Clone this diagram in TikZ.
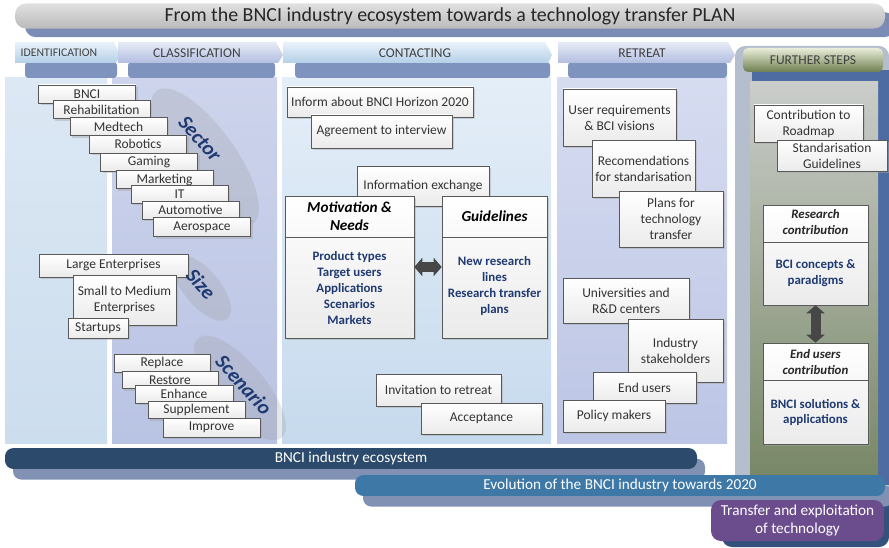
\documentclass[tikz,border=0pt]{standalone}
\usepackage{fontspec}
\setmainfont{Carlito}
\usepackage{xcolor}
\usepackage{tikz}
\usetikzlibrary{arrows.meta,shadows}
\definecolor{ink}{HTML}{333333}
\definecolor{navy}{HTML}{1F3A72}
\definecolor{edge}{HTML}{595959}
\definecolor{stripblue}{HTML}{7E93BE}
\definecolor{titleshadow}{HTML}{7A8CB5}
\definecolor{ecobar}{HTML}{2C4B6C}
\definecolor{evobar}{HTML}{3D78A7}
\definecolor{barshadow}{HTML}{8191B3}
\definecolor{xferbg}{HTML}{6B4C8D}
\definecolor{deepblue}{HTML}{33517A}
\definecolor{fsframe}{HTML}{B5BECD}
\definecolor{fsstripe}{HTML}{4E6CA2}
\definecolor{fsinnertop}{HTML}{CACDCA}
\definecolor{fsinnerbot}{HTML}{738360}
\definecolor{idtop}{HTML}{DCE8F4}
\definecolor{idbot}{HTML}{CCDDEE}
\definecolor{cltop}{HTML}{CDD4EC}
\definecolor{clbot}{HTML}{B9C3E3}
\definecolor{cotop}{HTML}{E4EEF8}
\definecolor{cobot}{HTML}{C6DAED}
\definecolor{retop}{HTML}{D6DCF0}
\definecolor{rebot}{HTML}{BCC5E5}
\definecolor{bluetabtop}{HTML}{EAF2FA}
\definecolor{bluetabbot}{HTML}{B4D0E8}
\definecolor{lavtabtop}{HTML}{E6EAF6}
\definecolor{lavtabbot}{HTML}{B3BFE1}
\definecolor{olivetabtop}{HTML}{E9EDDA}
\definecolor{olivetabbot}{HTML}{6E7F4E}
\tikzset{
  card/.style={draw=edge, line width=0.5pt, top color=white, bottom color=black!8, text=ink,
    font=\fontsize{11.5}{13.6}\selectfont, align=center, inner sep=0pt,
    drop shadow={shadow xshift=0.7mm, shadow yshift=-0.7mm, fill=black!35, opacity=0.45}},
  box/.style 2 args={minimum width=#1*0.3mm, minimum height=#2*0.3mm},
  hdr/.style={text=black, font=\fontsize{13}{15.3}\selectfont\bfseries\itshape, align=center},
  hdrs/.style={text=black!85, font=\fontsize{11}{13.6}\selectfont\bfseries\itshape, align=center},
  body/.style={text=navy, font=\fontsize{11}{13.6}\selectfont\bfseries, align=center},
  sepline/.style={draw=edge, line width=0.5pt},
  lbl/.style={text=navy, font=\fontsize{17.5}{20}\selectfont\bfseries\itshape, rotate=-48},
  blob/.style={fill=black!40, opacity=0.24},
  tabtxt/.style={text=black!75, font=\fontsize{11.5}{13}\selectfont},
  tabblue/.style={top color=bluetabtop, bottom color=bluetabbot},
  tablav/.style={top color=lavtabtop, bottom color=lavtabbot},
  tabolive/.style={top color=olivetabtop, bottom color=olivetabbot},
  strip/.style={fill=stripblue, rounded corners=1mm},
  dbl/.style={draw=black!72, line width=3mm,
    {Triangle[width=5.4mm,length=2.4mm]}-{Triangle[width=5.4mm,length=2.4mm]}},
  titlebar/.style={box={870}{22}, rounded corners=3.3mm, top color=black!12, bottom color=black!27,
    text=black!85, font=\fontsize{17}{20}\selectfont,
    general shadow={fill=titleshadow, shadow xshift=3mm, shadow yshift=-2.6mm}},
  bar/.style={rounded corners=2.5mm, text=white, font=\fontsize{13}{15}\selectfont,
    general shadow={fill=barshadow, shadow xshift=2.4mm, shadow yshift=-3.2mm}},
  xferbox/.style={rounded corners=3mm, fill=xferbg, text=white, align=center,
    font=\fontsize{13}{15.5}\selectfont},
}

\begin{document}
\begin{tikzpicture}[x=0.3mm, y=-0.3mm]
  \useasboundingbox (0,0) rectangle (889,547);

  % title
  \node[titlebar] (title) at (450,16) {From the BNCI industry ecosystem towards a technology transfer PLAN};

  % columns
  \shade[top color=idtop, bottom color=idbot] (5,78) rectangle (107,443);
  \shade[top color=cltop, bottom color=clbot] (112,78) rectangle (277,443);
  \shade[top color=cotop, bottom color=cobot] (282,78) rectangle (551,443);
  \shade[top color=retop, bottom color=rebot] (557,78) rectangle (727,443);

  \fill[strip] (25,62) rectangle (117,78);
  \fill[strip] (128,62) rectangle (275,78);
  \fill[strip] (295,62) rectangle (550,78);
  \fill[strip] (568,62) rectangle (727,78);

  \shade[tabblue] (15,42) -- (114,42) -- (120,55) -- (116,63) -- (15,63) -- cycle;
  \shade[tablav] (118,42) -- (276,42) -- (283,55) -- (278,63) -- (118,63) -- cycle;
  \shade[tabblue] (283,42) -- (545,42) -- (552,55) -- (548,63) -- (283,63) -- cycle;
  \shade[tablav] (558,42) -- (728,42) -- (735,55) -- (730,63) -- (558,63) -- cycle;
  \node[tabtxt, font=\fontsize{10}{11}\selectfont] (idtab) at (59,53) {IDENTIFICATION};
  \node[tabtxt] (cltab) at (197,53) {CLASSIFICATION};
  \node[tabtxt] (cotab) at (415,53) {CONTACTING};
  \node[tabtxt] (retab) at (642,53) {RETREAT};

  % further steps column
  \fill[fsframe, rounded corners=3mm] (735,46) rectangle (889,515);
  \fill[fsstripe] (752,70) rectangle (889,82);
  \fill[fsstripe] (878,70) rectangle (889,485);
  \shade[top color=fsinnertop, bottom color=fsinnerbot] (750,82) rectangle (878,500);
  \shade[tabolive, rounded corners=1.5mm] (743,48) rectangle (883,72);
  \node[tabtxt] (fstab) at (813,60) {FURTHER STEPS};

  % classification
  \fill[blob, rotate around={-54:(205,157)}] (205,157) ellipse [x radius=82, y radius=30];
  \fill[blob, rotate around={-50:(202,288)}] (202,288) ellipse [x radius=40, y radius=18];
  \fill[blob, rotate around={-50:(240,388)}] (240,388) ellipse [x radius=65, y radius=25];

  \node[card, box={97}{18}] (bnci) at (87,94) {BNCI};
  \node[card, box={97}{18}] (rehab) at (101.5,109.5) {Rehabilitation};
  \node[card, box={97}{18}] (medtech) at (118.5,126.5) {Medtech};
  \node[card, box={97}{18}] (robotics) at (138,144) {Robotics};
  \node[card, box={97}{18}] (gaming) at (149,162) {Gaming};
  \node[card, box={97}{18}] (marketing) at (164.5,179.5) {Marketing};
  \node[card, box={97}{18}] (it) at (179.5,194) {IT};
  \node[card, box={97}{18}] (automotive) at (190.5,210) {Automotive};
  \node[card, box={97}{19}] (aerospace) at (202,227) {Aerospace};

  \node[card, box={149}{23}] (large) at (113.5,265.5) {Large Enterprises};
  \node[card, box={103}{50}] (sme) at (124.5,300) {Small to Medium\\Enterprises};
  \node[card, box={60}{20}] (startups) at (98,328) {Startups};

  \node[card, box={96}{18}] (replace) at (162,363) {Replace};
  \node[card, box={96}{17}] (restore) at (170,380) {Restore};
  \node[card, box={98}{18}] (enhance) at (184,394) {Enhance};
  \node[card, box={97}{17}] (supplement) at (196.5,410) {Supplement};
  \node[card, box={97}{19}] (improve) at (211.5,427.5) {Improve};

  \node[lbl] (sectorlbl) at (200,139) {Sector};
  \node[lbl] (sizelbl) at (201,284) {Size};
  \node[lbl] (scenlbl) at (244,385) {Scenario};

  % contacting
  \node[card, box={186}{30}] (inform) at (380,102) {Inform about BNCI Horizon 2020};
  \node[card, box={141}{33}] (agree) at (381.5,131.5) {Agreement to interview};
  \node[card, box={132}{40}] (infoex) at (423,186) {Information exchange};

  \node[card, box={129}{142}] (motiv) at (349.5,267) {};
  \draw[sepline] (motiv.west |- 0,237) -- (motiv.east |- 0,237);
  \node[hdr] (motivh) at (349.5,216) {Motivation \&\\Needs};
  \node[body] (motivb) at (349.5,288) {Product types\\Target users\\Applications\\Scenarios\\Markets};

  \node[card, box={105}{142}] (guide) at (494.5,267) {};
  \draw[sepline] (guide.west |- 0,237) -- (guide.east |- 0,237);
  \node[hdr] (guideh) at (494.5,216) {Guidelines};
  \node[body] (guideb) at (494.5,286) {New research\\lines\\Research transfer\\plans};

  \draw[dbl] (motiv) -- (guide);

  \node[card, box={125}{32}] (invite) at (438.5,390) {Invitation to retreat};
  \node[card, box={121}{31}] (accept) at (481.5,418.5) {Acceptance};

  % retreat
  \node[card, box={113}{57}] (usereq) at (619.5,117.5) {User requirements\\\& BCI visions};
  \node[card, box={103}{57}] (recom) at (643.5,168.5) {Recomendations\\for standarisation};
  \node[card, box={104}{56}] (plans) at (671,219) {Plans for\\technology\\transfer};

  \node[card, box={126}{45}] (univ) at (626,300.5) {Universities and\\R\&D centers};
  \node[card, box={95}{63}] (industry) at (675.5,350.5) {Industry\\stakeholders};
  \node[card, box={103}{31}] (endusers) at (644.5,387.5) {End users};
  \node[card, box={102}{32}] (policy) at (614,416) {Policy makers};

  % further steps
  \node[card, box={109}{37}] (roadmap) at (808.5,123.5) {Contribution to\\Roadmap};
  \node[card, box={110}{31}] (standard) at (832,155.5) {Standarisation\\Guidelines};

  \node[card, box={105}{100}] (research) at (815.5,255) {};
  \draw[sepline] (research.west |- 0,242) -- (research.east |- 0,242);
  \node[hdrs] (researchh) at (815.5,222) {Research\\contribution};
  \node[body] (researchb) at (815.5,273) {BCI concepts \&\\paradigms};

  \node[card, box={105}{101}] (userctb) at (815.5,393.5) {};
  \draw[sepline] (userctb.west |- 0,380) -- (userctb.east |- 0,380);
  \node[hdrs] (userctbh) at (815.5,362) {End users\\contribution};
  \node[body] (userctbb) at (815.5,412.5) {BNCI solutions \&\\applications};

  \draw[dbl] (research) -- (userctb);

  % bottom bars
  \fill[deepblue, rounded corners=3mm] (722,487) rectangle (889,547);
  \node[bar, fill=ecobar, box={692}{17}] (eco) at (351,458.5) {BNCI industry ecosystem};
  \node[bar, fill=evobar, box={530}{17}] (evo) at (620,485.5) {Evolution of the BNCI industry towards 2020};
  \node[xferbox, box={173}{41}] (xfer) at (797.5,520.5) {Transfer and exploitation\\of technology};
\end{tikzpicture}
\end{document}
